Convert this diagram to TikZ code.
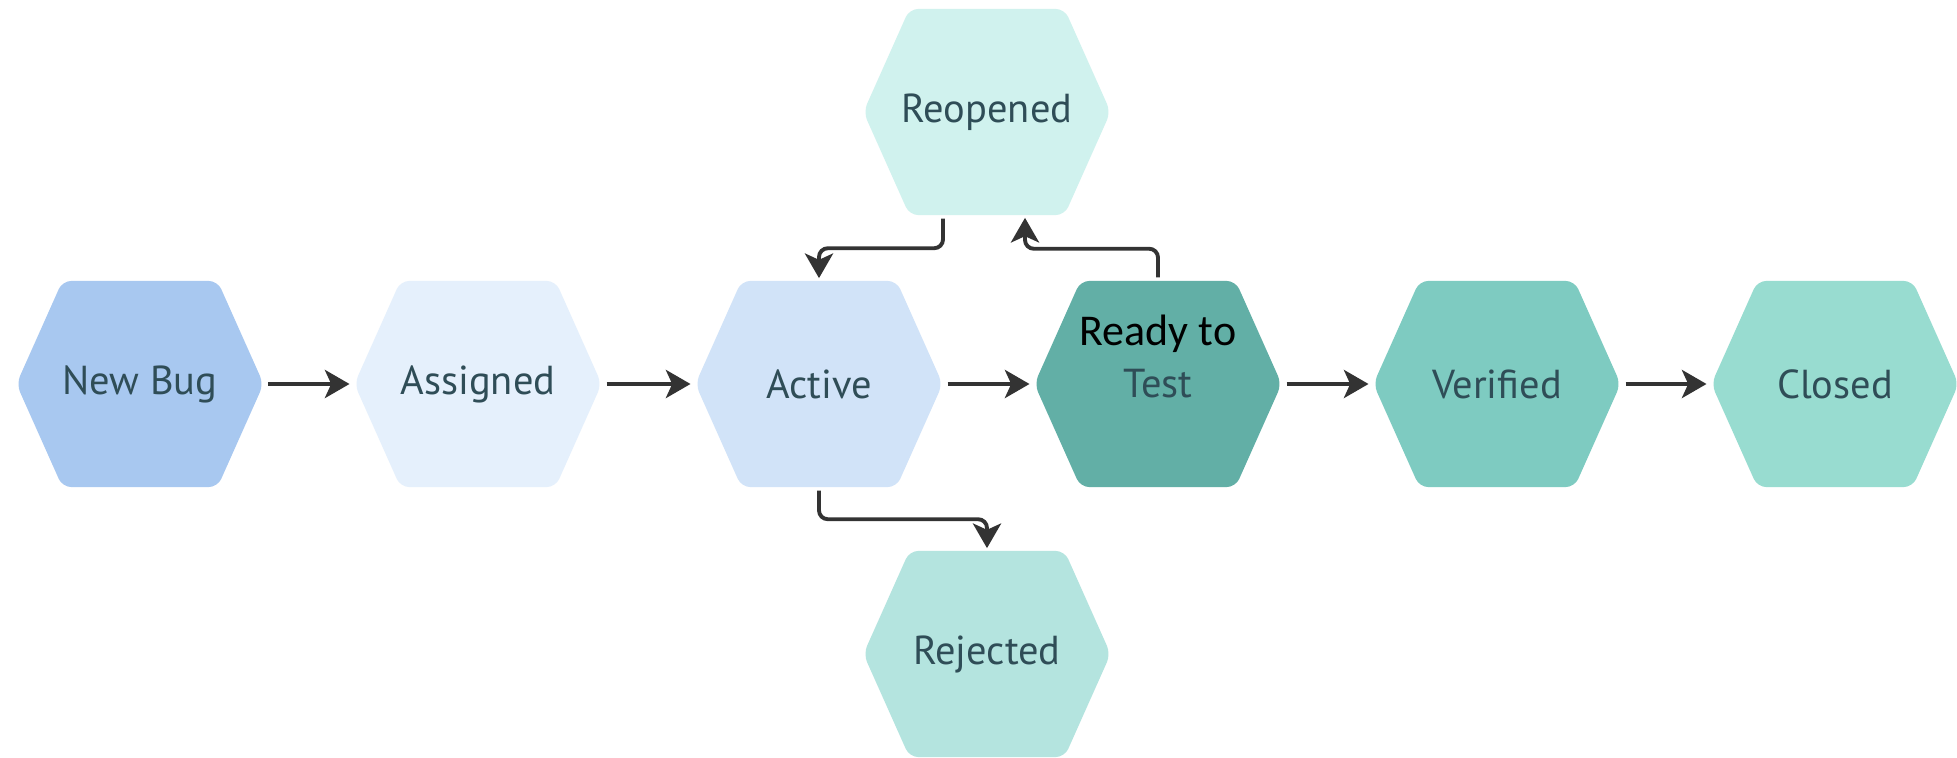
\documentclass[tikz,border=0pt]{standalone}
\usepackage{fontspec}
\setmainfont{PT Sans}
\newfontfamily\carlito{Carlito}
\usetikzlibrary{calc,arrows.meta}
\definecolor{cNew}{HTML}{A8C8F0}
\definecolor{cAssigned}{HTML}{E5F0FC}
\definecolor{cActive}{HTML}{D1E3F8}
\definecolor{cReady}{HTML}{62AFA6}
\definecolor{cVerified}{HTML}{7ECBC1}
\definecolor{cClosed}{HTML}{98DCD0}
\definecolor{cReopened}{HTML}{D0F2EE}
\definecolor{cRejected}{HTML}{B4E4DF}
\definecolor{txt}{HTML}{2F4D57}
\definecolor{lineC}{HTML}{333333}
\tikzset{
  hexa/.style={rectangle, minimum width=2.47cm, minimum height=2.06cm, inner sep=0pt,
    font=\fontsize{11.5}{14}\selectfont, text=txt,
    path picture={\fill[#1, rounded corners=2.5pt]
      (path picture bounding box.west)
      -- ($(path picture bounding box.north west)+(46,0)$)
      -- ($(path picture bounding box.north east)+(-46,0)$)
      -- (path picture bounding box.east)
      -- ($(path picture bounding box.south east)+(-46,0)$)
      -- ($(path picture bounding box.south west)+(46,0)$)
      -- cycle;}},
  conn/.style={draw=lineC, line width=1.1pt,
    -{Stealth[length=7pt,width=8pt,inset=1.8pt]},
    shorten <=1.2pt, shorten >=1.2pt},
  elbow/.style={conn, rounded corners=2.5pt, shorten >=0.6pt, shorten <=0.8pt}
}
\begin{document}
\begin{tikzpicture}[x=0.01cm,y=-0.01cm]
\useasboundingbox[fill=white] (0,0) rectangle (1957,758);
\node[hexa=cNew] (nb) at (140,384) {New Bug};
\node[hexa=cAssigned] (as) at (478,384) {Assigned};
\node[hexa=cActive] (ac) at (819,384) {Active};
\node[hexa=cReady] (rt) at (1158,384) {Test};
\node[hexa=cVerified] (ve) at (1497,384) {Verified};
\node[hexa=cClosed] (cl) at (1835,384) {Closed};
\node[hexa=cReopened] (ro) at (987,112) {Reopened};
\node[hexa=cRejected] (rj) at (987,654) {Rejected};
\node[font=\carlito\fontsize{12.5}{15}\selectfont, text=black, inner sep=0pt] (rtl) at ($(rt.center)+(0,-50)$) {Ready to};
\draw[conn] (nb.east) -- (as.west);
\draw[conn] (as.east) -- (ac.west);
\draw[conn] (ac.east) -- (rt.west);
\draw[conn] (rt.east) -- (ve.west);
\draw[conn] (ve.east) -- (cl.west);
\draw[elbow] ($(ro.south)+(-44,0)$) |- ($(ac.north)+(0,-32)$) -- (ac.north);
\draw[elbow] (rt.north) |- ($(ro.south)+(38,33)$) -- ($(ro.south)+(38,0)$);
\draw[elbow] (ac.south) |- ($(rj.north)+(0,-31)$) -- (rj.north);
\end{tikzpicture}
\end{document}
